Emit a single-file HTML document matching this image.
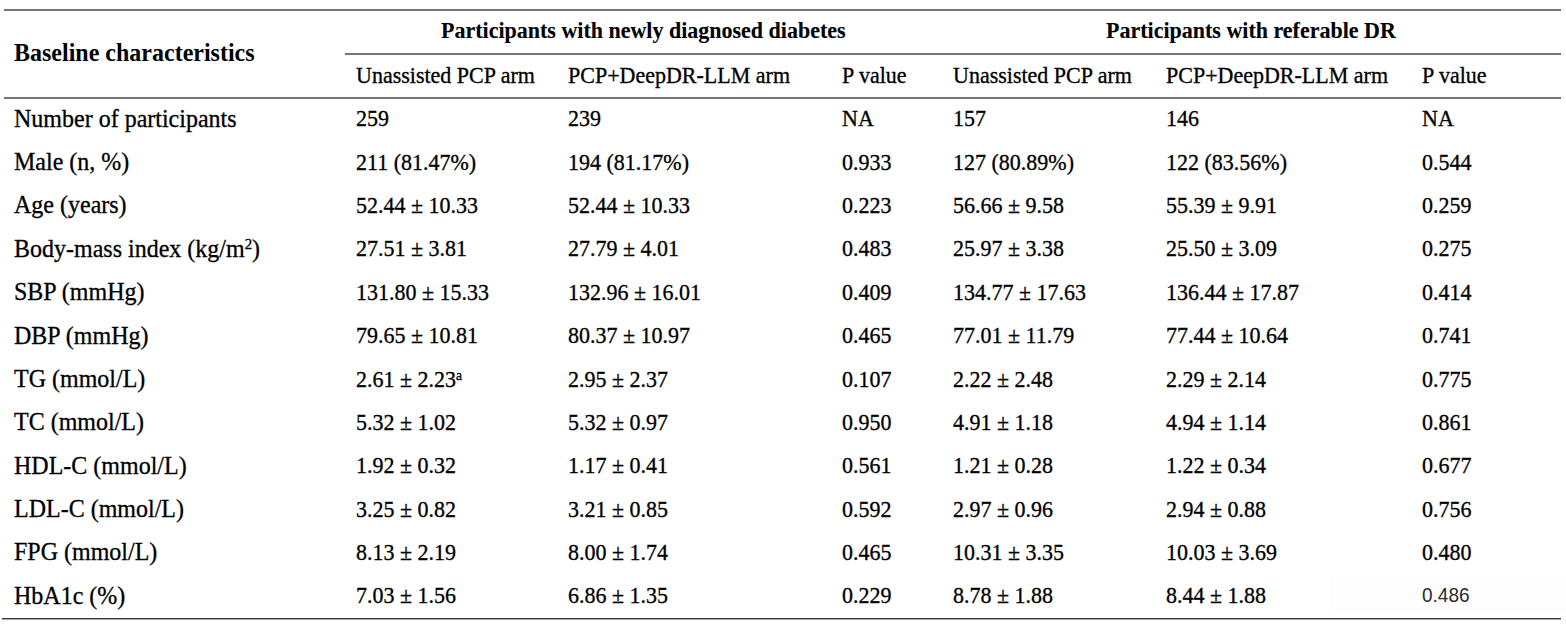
<!DOCTYPE html>
<html><head><meta charset="utf-8"><style>
html,body{margin:0;padding:0;background:#fff;}
body{width:1566px;height:624px;position:relative;overflow:hidden;font-family:"Liberation Serif",serif;color:#000;}
.t{position:absolute;white-space:nowrap;line-height:1;-webkit-text-stroke:0.3px #000;}
.l{position:absolute;}
sup{font-size:0.62em;vertical-align:0;position:relative;top:-0.55em;}
</style></head><body>

<div class="l" style="left:1331px;width:235px;top:576px;height:37px;background:#fdfdfd"></div>
<div class="l" style="left:4px;width:1557px;top:9px;height:2px;background:#767676"></div>
<div class="l" style="left:345px;width:1216px;top:53px;height:2px;background:#767676"></div>
<div class="l" style="left:4px;width:1557px;top:97px;height:2px;background:#767676"></div>
<div class="l" style="left:2px;width:1559px;top:618px;height:1px;background:#3a3a3a"></div>
<div class="l" style="left:2px;width:1559px;top:619px;height:1px;background:#a8a8a8"></div>
<div class="t" style="left:14.00px;top:40.50px;font-size:24px;transform-origin:0 20.10px;transform:scaleY(1.05);font-weight:bold;-webkit-text-stroke:0;">Baseline characteristics</div>
<div class="t" style="left:441.00px;top:20.07px;font-size:22px;transform-origin:0 18.43px;transform:scaleY(1.02);font-weight:bold;-webkit-text-stroke:0.1px #000;">Participants with newly diagnosed diabetes</div>
<div class="t" style="left:1106.00px;top:20.07px;font-size:22px;transform-origin:0 18.43px;transform:scaleY(1.02);font-weight:bold;-webkit-text-stroke:0.1px #000;">Participants with referable DR</div>
<div class="t" style="left:356.00px;top:64.58px;font-size:22px;transform-origin:0 18.43px;transform:scaleY(1.06);">Unassisted PCP arm</div>
<div class="t" style="left:568.00px;top:64.58px;font-size:22px;transform-origin:0 18.43px;transform:scaleY(1.06);">PCP+DeepDR-LLM arm</div>
<div class="t" style="left:842.00px;top:64.58px;font-size:22px;transform-origin:0 18.43px;transform:scaleY(1.06);">P value</div>
<div class="t" style="left:953.00px;top:64.58px;font-size:22px;transform-origin:0 18.43px;transform:scaleY(1.06);">Unassisted PCP arm</div>
<div class="t" style="left:1166.00px;top:64.58px;font-size:22px;transform-origin:0 18.43px;transform:scaleY(1.06);">PCP+DeepDR-LLM arm</div>
<div class="t" style="left:1422.00px;top:64.58px;font-size:22px;transform-origin:0 18.43px;transform:scaleY(1.06);">P value</div>
<div class="t" style="left:14.00px;top:106.70px;font-size:24px;transform-origin:0 20.10px;transform:scaleY(1.03);">Number of participants</div>
<div class="t" style="left:356.00px;top:108.38px;font-size:22px;transform-origin:0 18.43px;transform:scaleY(1.06);">259</div>
<div class="t" style="left:568.00px;top:108.38px;font-size:22px;transform-origin:0 18.43px;transform:scaleY(1.06);">239</div>
<div class="t" style="left:842.00px;top:108.38px;font-size:22px;transform-origin:0 18.43px;transform:scaleY(1.06);">NA</div>
<div class="t" style="left:953.00px;top:108.38px;font-size:22px;transform-origin:0 18.43px;transform:scaleY(1.06);">157</div>
<div class="t" style="left:1166.00px;top:108.38px;font-size:22px;transform-origin:0 18.43px;transform:scaleY(1.06);">146</div>
<div class="t" style="left:1422.00px;top:108.38px;font-size:22px;transform-origin:0 18.43px;transform:scaleY(1.06);">NA</div>
<div class="t" style="left:14.00px;top:150.06px;font-size:24px;transform-origin:0 20.10px;transform:scaleY(1.03);">Male (n, %)</div>
<div class="t" style="left:356.00px;top:151.73px;font-size:22px;transform-origin:0 18.43px;transform:scaleY(1.06);">211 (81.47%)</div>
<div class="t" style="left:568.00px;top:151.73px;font-size:22px;transform-origin:0 18.43px;transform:scaleY(1.06);">194 (81.17%)</div>
<div class="t" style="left:842.00px;top:151.73px;font-size:22px;transform-origin:0 18.43px;transform:scaleY(1.06);">0.933</div>
<div class="t" style="left:953.00px;top:151.73px;font-size:22px;transform-origin:0 18.43px;transform:scaleY(1.06);">127 (80.89%)</div>
<div class="t" style="left:1166.00px;top:151.73px;font-size:22px;transform-origin:0 18.43px;transform:scaleY(1.06);">122 (83.56%)</div>
<div class="t" style="left:1422.00px;top:151.73px;font-size:22px;transform-origin:0 18.43px;transform:scaleY(1.06);">0.544</div>
<div class="t" style="left:14.00px;top:193.42px;font-size:24px;transform-origin:0 20.10px;transform:scaleY(1.03);">Age (years)</div>
<div class="t" style="left:356.00px;top:195.09px;font-size:22px;transform-origin:0 18.43px;transform:scaleY(1.06);">52.44 ± 10.33</div>
<div class="t" style="left:568.00px;top:195.09px;font-size:22px;transform-origin:0 18.43px;transform:scaleY(1.06);">52.44 ± 10.33</div>
<div class="t" style="left:842.00px;top:195.09px;font-size:22px;transform-origin:0 18.43px;transform:scaleY(1.06);">0.223</div>
<div class="t" style="left:953.00px;top:195.09px;font-size:22px;transform-origin:0 18.43px;transform:scaleY(1.06);">56.66 ± 9.58</div>
<div class="t" style="left:1166.00px;top:195.09px;font-size:22px;transform-origin:0 18.43px;transform:scaleY(1.06);">55.39 ± 9.91</div>
<div class="t" style="left:1422.00px;top:195.09px;font-size:22px;transform-origin:0 18.43px;transform:scaleY(1.06);">0.259</div>
<div class="t" style="left:14.00px;top:236.78px;font-size:24px;transform-origin:0 20.10px;transform:scaleY(1.03);">Body-mass index (kg/m<sup>2</sup>)</div>
<div class="t" style="left:356.00px;top:238.45px;font-size:22px;transform-origin:0 18.43px;transform:scaleY(1.06);">27.51 ± 3.81</div>
<div class="t" style="left:568.00px;top:238.45px;font-size:22px;transform-origin:0 18.43px;transform:scaleY(1.06);">27.79 ± 4.01</div>
<div class="t" style="left:842.00px;top:238.45px;font-size:22px;transform-origin:0 18.43px;transform:scaleY(1.06);">0.483</div>
<div class="t" style="left:953.00px;top:238.45px;font-size:22px;transform-origin:0 18.43px;transform:scaleY(1.06);">25.97 ± 3.38</div>
<div class="t" style="left:1166.00px;top:238.45px;font-size:22px;transform-origin:0 18.43px;transform:scaleY(1.06);">25.50 ± 3.09</div>
<div class="t" style="left:1422.00px;top:238.45px;font-size:22px;transform-origin:0 18.43px;transform:scaleY(1.06);">0.275</div>
<div class="t" style="left:14.00px;top:280.14px;font-size:24px;transform-origin:0 20.10px;transform:scaleY(1.03);">SBP (mmHg)</div>
<div class="t" style="left:356.00px;top:281.81px;font-size:22px;transform-origin:0 18.43px;transform:scaleY(1.06);">131.80 ± 15.33</div>
<div class="t" style="left:568.00px;top:281.81px;font-size:22px;transform-origin:0 18.43px;transform:scaleY(1.06);">132.96 ± 16.01</div>
<div class="t" style="left:842.00px;top:281.81px;font-size:22px;transform-origin:0 18.43px;transform:scaleY(1.06);">0.409</div>
<div class="t" style="left:953.00px;top:281.81px;font-size:22px;transform-origin:0 18.43px;transform:scaleY(1.06);">134.77 ± 17.63</div>
<div class="t" style="left:1166.00px;top:281.81px;font-size:22px;transform-origin:0 18.43px;transform:scaleY(1.06);">136.44 ± 17.87</div>
<div class="t" style="left:1422.00px;top:281.81px;font-size:22px;transform-origin:0 18.43px;transform:scaleY(1.06);">0.414</div>
<div class="t" style="left:14.00px;top:323.50px;font-size:24px;transform-origin:0 20.10px;transform:scaleY(1.03);">DBP (mmHg)</div>
<div class="t" style="left:356.00px;top:325.18px;font-size:22px;transform-origin:0 18.43px;transform:scaleY(1.06);">79.65 ± 10.81</div>
<div class="t" style="left:568.00px;top:325.18px;font-size:22px;transform-origin:0 18.43px;transform:scaleY(1.06);">80.37 ± 10.97</div>
<div class="t" style="left:842.00px;top:325.18px;font-size:22px;transform-origin:0 18.43px;transform:scaleY(1.06);">0.465</div>
<div class="t" style="left:953.00px;top:325.18px;font-size:22px;transform-origin:0 18.43px;transform:scaleY(1.06);">77.01 ± 11.79</div>
<div class="t" style="left:1166.00px;top:325.18px;font-size:22px;transform-origin:0 18.43px;transform:scaleY(1.06);">77.44 ± 10.64</div>
<div class="t" style="left:1422.00px;top:325.18px;font-size:22px;transform-origin:0 18.43px;transform:scaleY(1.06);">0.741</div>
<div class="t" style="left:14.00px;top:366.86px;font-size:24px;transform-origin:0 20.10px;transform:scaleY(1.03);">TG (mmol/L)</div>
<div class="t" style="left:356.00px;top:368.53px;font-size:22px;transform-origin:0 18.43px;transform:scaleY(1.06);">2.61 ± 2.23<sup class=a>a</sup></div>
<div class="t" style="left:568.00px;top:368.53px;font-size:22px;transform-origin:0 18.43px;transform:scaleY(1.06);">2.95 ± 2.37</div>
<div class="t" style="left:842.00px;top:368.53px;font-size:22px;transform-origin:0 18.43px;transform:scaleY(1.06);">0.107</div>
<div class="t" style="left:953.00px;top:368.53px;font-size:22px;transform-origin:0 18.43px;transform:scaleY(1.06);">2.22 ± 2.48</div>
<div class="t" style="left:1166.00px;top:368.53px;font-size:22px;transform-origin:0 18.43px;transform:scaleY(1.06);">2.29 ± 2.14</div>
<div class="t" style="left:1422.00px;top:368.53px;font-size:22px;transform-origin:0 18.43px;transform:scaleY(1.06);">0.775</div>
<div class="t" style="left:14.00px;top:410.22px;font-size:24px;transform-origin:0 20.10px;transform:scaleY(1.03);">TC (mmol/L)</div>
<div class="t" style="left:356.00px;top:411.89px;font-size:22px;transform-origin:0 18.43px;transform:scaleY(1.06);">5.32 ± 1.02</div>
<div class="t" style="left:568.00px;top:411.89px;font-size:22px;transform-origin:0 18.43px;transform:scaleY(1.06);">5.32 ± 0.97</div>
<div class="t" style="left:842.00px;top:411.89px;font-size:22px;transform-origin:0 18.43px;transform:scaleY(1.06);">0.950</div>
<div class="t" style="left:953.00px;top:411.89px;font-size:22px;transform-origin:0 18.43px;transform:scaleY(1.06);">4.91 ± 1.18</div>
<div class="t" style="left:1166.00px;top:411.89px;font-size:22px;transform-origin:0 18.43px;transform:scaleY(1.06);">4.94 ± 1.14</div>
<div class="t" style="left:1422.00px;top:411.89px;font-size:22px;transform-origin:0 18.43px;transform:scaleY(1.06);">0.861</div>
<div class="t" style="left:14.00px;top:453.58px;font-size:24px;transform-origin:0 20.10px;transform:scaleY(1.03);">HDL-C (mmol/L)</div>
<div class="t" style="left:356.00px;top:455.25px;font-size:22px;transform-origin:0 18.43px;transform:scaleY(1.06);">1.92 ± 0.32</div>
<div class="t" style="left:568.00px;top:455.25px;font-size:22px;transform-origin:0 18.43px;transform:scaleY(1.06);">1.17 ± 0.41</div>
<div class="t" style="left:842.00px;top:455.25px;font-size:22px;transform-origin:0 18.43px;transform:scaleY(1.06);">0.561</div>
<div class="t" style="left:953.00px;top:455.25px;font-size:22px;transform-origin:0 18.43px;transform:scaleY(1.06);">1.21 ± 0.28</div>
<div class="t" style="left:1166.00px;top:455.25px;font-size:22px;transform-origin:0 18.43px;transform:scaleY(1.06);">1.22 ± 0.34</div>
<div class="t" style="left:1422.00px;top:455.25px;font-size:22px;transform-origin:0 18.43px;transform:scaleY(1.06);">0.677</div>
<div class="t" style="left:14.00px;top:496.94px;font-size:24px;transform-origin:0 20.10px;transform:scaleY(1.03);">LDL-C (mmol/L)</div>
<div class="t" style="left:356.00px;top:498.61px;font-size:22px;transform-origin:0 18.43px;transform:scaleY(1.06);">3.25 ± 0.82</div>
<div class="t" style="left:568.00px;top:498.61px;font-size:22px;transform-origin:0 18.43px;transform:scaleY(1.06);">3.21 ± 0.85</div>
<div class="t" style="left:842.00px;top:498.61px;font-size:22px;transform-origin:0 18.43px;transform:scaleY(1.06);">0.592</div>
<div class="t" style="left:953.00px;top:498.61px;font-size:22px;transform-origin:0 18.43px;transform:scaleY(1.06);">2.97 ± 0.96</div>
<div class="t" style="left:1166.00px;top:498.61px;font-size:22px;transform-origin:0 18.43px;transform:scaleY(1.06);">2.94 ± 0.88</div>
<div class="t" style="left:1422.00px;top:498.61px;font-size:22px;transform-origin:0 18.43px;transform:scaleY(1.06);">0.756</div>
<div class="t" style="left:14.00px;top:540.30px;font-size:24px;transform-origin:0 20.10px;transform:scaleY(1.03);">FPG (mmol/L)</div>
<div class="t" style="left:356.00px;top:541.98px;font-size:22px;transform-origin:0 18.43px;transform:scaleY(1.06);">8.13 ± 2.19</div>
<div class="t" style="left:568.00px;top:541.98px;font-size:22px;transform-origin:0 18.43px;transform:scaleY(1.06);">8.00 ± 1.74</div>
<div class="t" style="left:842.00px;top:541.98px;font-size:22px;transform-origin:0 18.43px;transform:scaleY(1.06);">0.465</div>
<div class="t" style="left:953.00px;top:541.98px;font-size:22px;transform-origin:0 18.43px;transform:scaleY(1.06);">10.31 ± 3.35</div>
<div class="t" style="left:1166.00px;top:541.98px;font-size:22px;transform-origin:0 18.43px;transform:scaleY(1.06);">10.03 ± 3.69</div>
<div class="t" style="left:1422.00px;top:541.98px;font-size:22px;transform-origin:0 18.43px;transform:scaleY(1.06);">0.480</div>
<div class="t" style="left:14.00px;top:583.66px;font-size:24px;transform-origin:0 20.10px;transform:scaleY(1.03);">HbA1c (%)</div>
<div class="t" style="left:356.00px;top:585.34px;font-size:22px;transform-origin:0 18.43px;transform:scaleY(1.06);">7.03 ± 1.56</div>
<div class="t" style="left:568.00px;top:585.34px;font-size:22px;transform-origin:0 18.43px;transform:scaleY(1.06);">6.86 ± 1.35</div>
<div class="t" style="left:842.00px;top:585.34px;font-size:22px;transform-origin:0 18.43px;transform:scaleY(1.06);">0.229</div>
<div class="t" style="left:953.00px;top:585.34px;font-size:22px;transform-origin:0 18.43px;transform:scaleY(1.06);">8.78 ± 1.88</div>
<div class="t" style="left:1166.00px;top:585.34px;font-size:22px;transform-origin:0 18.43px;transform:scaleY(1.06);">8.44 ± 1.88</div>
<div class="t" style="left:1422.00px;top:585.34px;font-size:22px;transform-origin:0 18.43px;transform:scaleY(1.06);font-family:'Liberation Sans',sans-serif;font-size:19px;color:#2a2a2a;-webkit-text-stroke:0;margin-top:1px;">0.486</div>
</body></html>
